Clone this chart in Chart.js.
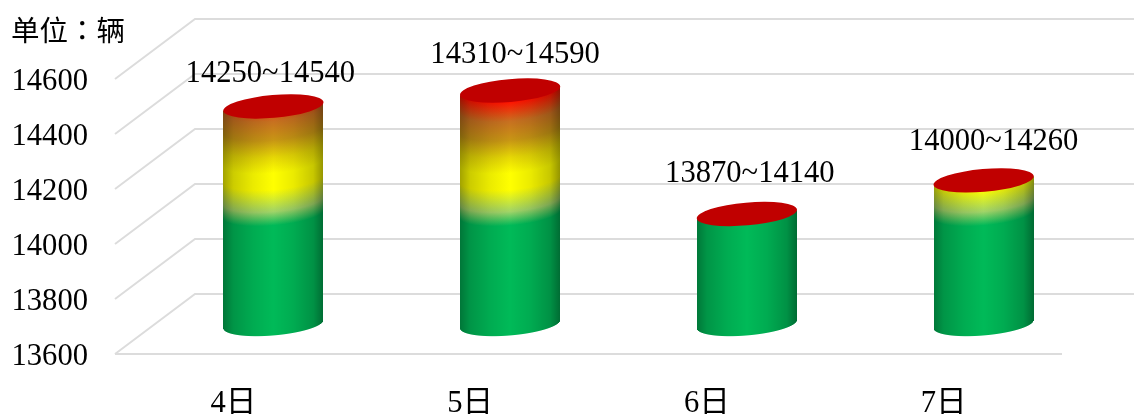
<!DOCTYPE html>
<html>
<head>
<meta charset="utf-8">
<style>
    html, body { margin: 0; padding: 0; background: #fff; }
    #wrap { width: 1134px; height: 414px; }
</style>
<script src="https://cdn.jsdelivr.net/npm/chart.js@4"></script>
</head>
<body>
<div id="wrap"><canvas id="chart"></canvas></div>
<script>
const days = ['4日', '5日', '6日', '7日'];
const rangeLabels = ['14250~14540', '14310~14590', '13870~14140', '14000~14260'];
const greenValues = [14000, 14000, 14000, 14000];
const yellowValues = [130, 130, 0, 122];
const redValues = [261, 319, 0, 0];
const yTicks = [13600, 13800, 14000, 14200, 14400, 14600];
const unitLabel = '单位：辆';

// colour bands along the value axis, green fading up through yellow to red
const bandStops = [[14000, '#00ba58'], [14050, '#a0d468'], [14130, '#ffff00'], [14190, '#ffff00'], [14248, '#e6d705'], [14310, '#c89614'], [14379, '#c87020'], [14449, '#ff1400']];
const labelNudge = [[-3, -33], [5, -36], [3, -40], [10, -38]];

const FONT = '"Liberation Serif", "Noto Sans CJK SC", serif';
const DEPTH_X = 80, DEPTH_Y = 60;
const TILT = -5 * Math.PI / 180, RX = 50.3, RY = 11.4;
// axis text sits a little below the line it belongs to
const TEXT_DROP = 3;

// lower edge of the tilted ellipse at horizontal offset dx
const lowerEdge = (dx) => {
    const s = Math.sin(TILT), c = Math.cos(TILT);
    const A = s * s / (RX * RX) + c * c / (RY * RY);
    const B = 2 * s * c * (1 / (RX * RX) - 1 / (RY * RY)) * dx;
    const C = dx * dx * (c * c / (RX * RX) + s * s / (RY * RY)) - 1;
    return (-B + Math.sqrt(Math.max(0, B * B - 4 * A * C))) / (2 * A);
};

const wallGrid = {
    id: 'wallGrid',
    beforeDatasetsDraw(chart) {
        const { ctx, chartArea, scales } = chart;
        ctx.save();
        ctx.strokeStyle = '#dcdcdc';
        ctx.lineWidth = 2;
        yTicks.forEach(v => {
            const y = scales.y.getPixelForValue(v) - TEXT_DROP;
            ctx.beginPath();
            ctx.moveTo(chartArea.left, y);
            ctx.lineTo(chartArea.left + DEPTH_X, y - DEPTH_Y);
            ctx.lineTo(chart.width, y - DEPTH_Y);
            ctx.stroke();
        });
        // front edge of the floor
        const floor = scales.y.getPixelForValue(yTicks[0]) - TEXT_DROP;
        ctx.beginPath();
        ctx.moveTo(chartArea.left, floor);
        ctx.lineTo(chartArea.right, floor);
        ctx.stroke();
        ctx.restore();
    }
};

const cylinders = {
    id: 'cylinders',
    afterDatasetsDraw(chart) {
        const { ctx, scales } = chart;
        const yAt = (v) => scales.y.getPixelForValue(v) - TEXT_DROP - DEPTH_Y / 2;

        const bands = ctx.createLinearGradient(0, yAt(bandStops[0][0]), 0, yAt(bandStops[bandStops.length - 1][0]));
        const span = bandStops[bandStops.length - 1][0] - bandStops[0][0];
        bandStops.forEach(([v, col]) => bands.addColorStop((v - bandStops[0][0]) / span, col));

        days.forEach((day, i) => {
            const cx = chart.getDatasetMeta(0).data[i].x + DEPTH_X / 2;
            const top = greenValues[i] + yellowValues[i] + redValues[i];
            const yTop = yAt(top);
            const yBase = yAt(yTicks[0]);

            const shade = ctx.createLinearGradient(cx - 50, 0, cx + 50, 0);
            shade.addColorStop(0, 'rgba(0,0,0,0.36)');
            shade.addColorStop(0.1, 'rgba(0,0,0,0.2)');
            shade.addColorStop(0.3, 'rgba(0,0,0,0.08)');
            shade.addColorStop(0.5, 'rgba(0,0,0,0)');
            shade.addColorStop(0.7, 'rgba(0,0,0,0.08)');
            shade.addColorStop(0.9, 'rgba(0,0,0,0.22)');
            shade.addColorStop(1, 'rgba(0,0,0,0.42)');

            // body, one pixel column at a time so the bands follow the curve
            for (let x = Math.round(cx - 50); x < Math.round(cx + 50); x++) {
                const dy = lowerEdge(x + 0.5 - cx);
                ctx.save();
                ctx.translate(0, dy);
                ctx.fillStyle = bands;
                ctx.fillRect(x, yTop - 1, 1, yBase - yTop + 1);
                ctx.fillStyle = shade;
                ctx.fillRect(x, yTop - 1, 1, yBase - yTop + 1);
                ctx.restore();
            }

            ctx.fillStyle = '#c00000';
            ctx.beginPath();
            ctx.ellipse(cx, yTop, RX, RY, TILT, 0, Math.PI * 2);
            ctx.fill();

            ctx.fillStyle = '#000';
            ctx.font = '30.6px ' + FONT;
            ctx.textAlign = 'center';
            ctx.textBaseline = 'middle';
            ctx.fillText(rangeLabels[i], cx + labelNudge[i][0], yTop + labelNudge[i][1]);
        });

        ctx.fillStyle = '#000';
        ctx.font = '28.5px "Noto Sans CJK TC", sans-serif';
        ctx.textAlign = 'left';
        ctx.textBaseline = 'middle';
        ctx.fillText(unitLabel, 11, 30);
    }
};

new Chart(document.getElementById('chart'), {
    type: 'bar',
    data: {
        labels: days,
        datasets: [
            { label: 'green', data: greenValues, backgroundColor: 'transparent' },
            { label: 'yellow', data: yellowValues, backgroundColor: 'transparent' },
            { label: 'red', data: redValues, backgroundColor: 'transparent' }
        ]
    },
    options: {
        responsive: true,
        maintainAspectRatio: false,
        animation: false,
        layout: { padding: { top: 82, right: 72, left: 0, bottom: 0 } },
        plugins: { legend: { display: false }, title: { display: false }, tooltip: { enabled: false } },
        scales: {
            x: {
                stacked: true,
                grid: { display: false, drawTicks: false },
                border: { display: false },
                ticks: { color: '#000', font: { family: FONT, size: 30.6 }, padding: 29, maxRotation: 0 },
                afterFit: (axis) => { axis.height = 57; }
            },
            y: {
                stacked: true,
                min: 13600,
                max: 14600,
                afterBuildTicks: (axis) => { axis.ticks = yTicks.map(value => ({ value })); },
                grid: { display: false, drawTicks: false },
                border: { display: false },
                ticks: { color: '#000', font: { family: FONT, size: 30.6 }, crossAlign: 'near', padding: 27, callback: (v) => String(v) },
                afterFit: (axis) => { axis.width = 115; }
            }
        }
    },
    plugins: [wallGrid, cylinders]
});
</script>
</body>
</html>
